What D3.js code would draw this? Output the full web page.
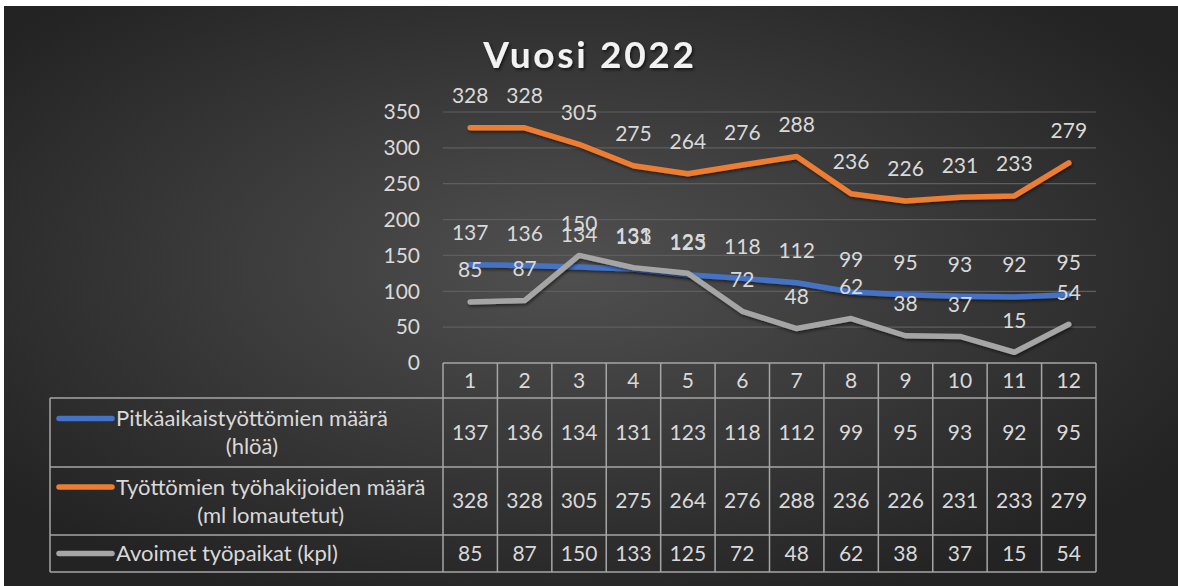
<!DOCTYPE html>
<html>
<head>
<meta charset="utf-8">
<script src="https://cdn.jsdelivr.net/npm/d3@7"></script>
<style>
  body { margin: 0; background: #fff; }
  svg { display: block; font-family: Lato, "Open Sans", sans-serif; }
</style>
</head>
<body>
<script>
// data
var months = ["1","2","3","4","5","6","7","8","9","10","11","12"];
var pitkaaikais = [137,136,134,131,123,118,112,99,95,93,92,95];
var tyottomat = [328,328,305,275,264,276,288,236,226,231,233,279];
var avoimet = [85,87,150,133,125,72,48,62,38,37,15,54];
var seriesNames = [["Pitkäaikaistyöttömien määrä", "(hlöä)"],
                   ["Työttömien työhakijoiden määrä", "(ml lomautetut)"],
                   ["Avoimet työpaikat (kpl)"]];
var seriesColors = ["#4472c4", "#ed7d31", "#a5a5a5"];
var yTicks = [0,50,100,150,200,250,300,350];

var series = [pitkaaikais, tyottomat, avoimet];

var W = 1178, H = 586;
var plotLeft = 443, plotRight = 1096, plotTop = 112, plotBottom = 363;
var rowTops = [363, 398, 467, 535, 572]; // header, row1, row2, row3, bottom
var tableLeft = 50;
var txt = "#d9d9d9", lineCol = "#a6a6a6";
var fs = 21;

var svg = d3.select("body").append("svg")
  .attr("width", W)
  .attr("height", H);

var defs = svg.append("defs");
var bg = defs.append("radialGradient")
  .attr("id", "bg")
  .attr("cx", "48%").attr("cy", "45%").attr("r", "62%");
bg.append("stop").attr("offset", "0%").attr("stop-color", "#505050");
bg.append("stop").attr("offset", "100%").attr("stop-color", "#232323");

var sh = defs.append("filter").attr("id", "sh")
  .attr("x", "-5%").attr("y", "-20%").attr("width", "110%").attr("height", "140%");
sh.append("feDropShadow").attr("dx", 1).attr("dy", 2).attr("stdDeviation", 1.5)
  .attr("flood-color", "#000").attr("flood-opacity", 0.5);

var tsh = defs.append("filter").attr("id", "tsh");
tsh.append("feDropShadow").attr("dx", 1.5).attr("dy", 2).attr("stdDeviation", 1.5)
  .attr("flood-color", "#000").attr("flood-opacity", 0.6);

// background
svg.append("rect")
  .attr("x", 4).attr("y", 6)
  .attr("width", W - 4).attr("height", H - 6)
  .attr("fill", "url(#bg)");

// title
svg.append("text")
  .attr("x", 590).attr("y", 68)
  .attr("text-anchor", "middle")
  .attr("fill", "#f2f2f2")
  .attr("font-size", 37)
  .attr("font-weight", "bold")
  .attr("letter-spacing", 2.7)
  .attr("filter", "url(#tsh)")
  .text("Vuosi 2022");

// scales
var x = d3.scaleBand().domain(months).range([plotLeft, plotRight]);
var y = d3.scaleLinear().domain([0, 350]).range([plotBottom, plotTop]);

// gridlines
svg.append("g").selectAll("line")
  .data(yTicks.filter(function(d) { return d > 0; }))
  .enter().append("line")
    .attr("x1", plotLeft).attr("x2", plotRight)
    .attr("y1", function(d) { return y(d); })
    .attr("y2", function(d) { return y(d); })
    .attr("stroke", "#5e5e5e")
    .attr("stroke-width", 1.2);

// y axis
var yAxis = d3.axisLeft(y).tickValues(yTicks).tickSize(0).tickPadding(0);
var ya = svg.append("g")
  .attr("transform", "translate(420,0)")
  .call(yAxis);
ya.select(".domain").remove();
ya.selectAll("text")
  .attr("fill", txt)
  .attr("font-size", fs)
  .attr("font-family", "Lato, sans-serif");

// lines
var line = d3.line()
  .x(function(d, i) { return x(months[i]) + x.bandwidth() / 2; })
  .y(function(d) { return y(d); });

series.forEach(function(s, k) {
  svg.append("path")
    .datum(s)
    .attr("d", line)
    .attr("fill", "none")
    .attr("stroke", seriesColors[k])
    .attr("stroke-width", 5.5)
    .attr("stroke-linecap", "round")
    .attr("stroke-linejoin", "round")
    .attr("filter", "url(#sh)");
});

// data labels above points
series.forEach(function(s) {
  svg.append("g").selectAll("text")
    .data(s)
    .enter().append("text")
      .attr("x", function(d, i) { return x(months[i]) + x.bandwidth() / 2; })
      .attr("y", function(d) { return y(d) - 32; })
      .attr("dy", "0.35em")
      .attr("text-anchor", "middle")
      .attr("fill", txt)
      .attr("font-size", fs)
      .text(function(d) { return d; });
});

// data table
var table = svg.append("g").attr("stroke", lineCol).attr("stroke-width", 1.5);
// horizontal lines
table.append("line").attr("x1", plotLeft).attr("x2", plotRight)
  .attr("y1", rowTops[0]).attr("y2", rowTops[0]);
rowTops.slice(1).forEach(function(r) {
  table.append("line").attr("x1", tableLeft).attr("x2", plotRight)
    .attr("y1", r).attr("y2", r);
});
// vertical lines
months.forEach(function(m) {
  table.append("line").attr("x1", x(m)).attr("x2", x(m))
    .attr("y1", rowTops[0]).attr("y2", rowTops[4]);
});
table.append("line").attr("x1", plotRight).attr("x2", plotRight)
  .attr("y1", rowTops[0]).attr("y2", rowTops[4]);
table.append("line").attr("x1", tableLeft).attr("x2", tableLeft)
  .attr("y1", rowTops[1]).attr("y2", rowTops[4]);

// header row
svg.append("g").selectAll("text")
  .data(months)
  .enter().append("text")
    .attr("x", function(d) { return x(d) + x.bandwidth() / 2; })
    .attr("y", (rowTops[0] + rowTops[1]) / 2)
    .attr("dy", "0.35em")
    .attr("text-anchor", "middle")
    .attr("fill", txt)
    .attr("font-size", fs)
    .text(function(d) { return d; });

// value rows + legend cells
series.forEach(function(s, k) {
  var top = rowTops[k + 1], bot = rowTops[k + 2], mid = (top + bot) / 2;
  svg.append("g").selectAll("text")
    .data(s)
    .enter().append("text")
      .attr("x", function(d, i) { return x(months[i]) + x.bandwidth() / 2; })
      .attr("y", mid)
      .attr("dy", "0.35em")
      .attr("text-anchor", "middle")
      .attr("fill", txt)
      .attr("font-size", fs)
      .text(function(d) { return d; });

  var names = seriesNames[k];
  var y0 = names.length > 1 ? mid - 14 : mid;
  svg.append("line")
    .attr("x1", 59).attr("x2", 112)
    .attr("y1", y0).attr("y2", y0)
    .attr("stroke", seriesColors[k])
    .attr("stroke-width", 5.5)
    .attr("stroke-linecap", "round");
  var t1 = svg.append("text")
    .attr("x", 116).attr("y", y0)
    .attr("dy", "0.35em")
    .attr("fill", txt)
    .attr("font-size", 22)
    .text(names[0]);
  if (names.length > 1) {
    var w = t1.node().getComputedTextLength();
    svg.append("text")
      .attr("x", 116 + w / 2).attr("y", y0 + 28)
      .attr("dy", "0.35em")
      .attr("text-anchor", "middle")
      .attr("fill", txt)
      .attr("font-size", 22)
      .text(names[1]);
  }
});
</script>
</body>
</html>
